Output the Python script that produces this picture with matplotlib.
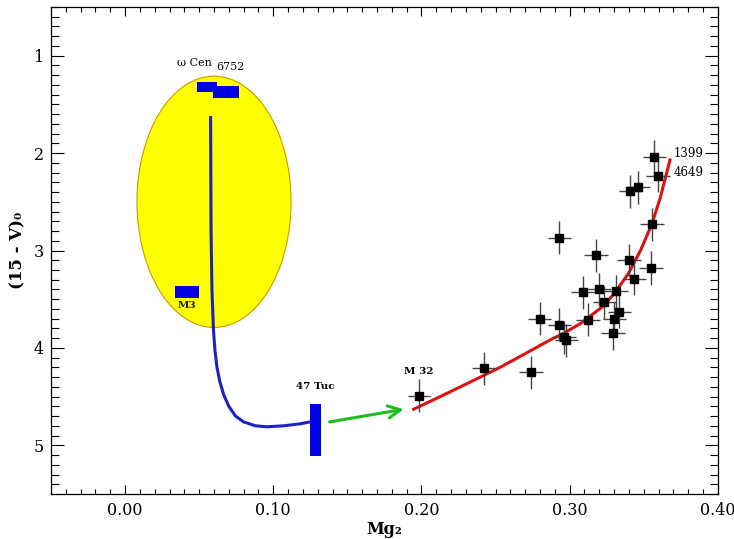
#!/usr/bin/env python3
"""Mg2 vs (15 - V)0 diagram: globular clusters and galaxies"""
import matplotlib
matplotlib.use('Agg')
import matplotlib.pyplot as plt
from matplotlib.patches import Ellipse, Rectangle
from matplotlib.ticker import MultipleLocator, FormatStrFormatter

# Galaxies (black squares with error bars)
gal_mg2 = [0.1981, 0.2421, 0.2741, 0.2797, 0.2931, 0.2960, 0.2978, 0.2931,
           0.3089, 0.3122, 0.3178, 0.3201, 0.3235, 0.3314, 0.3336, 0.3302,
           0.3291, 0.3399, 0.3437, 0.3550, 0.3557, 0.3410, 0.3459, 0.3572,
           0.3595]
gal_col = [4.49, 4.21, 4.25, 3.70, 3.76, 3.89, 3.92, 2.87,
           3.43, 3.71, 3.05, 3.40, 3.53, 3.42, 3.63, 3.70,
           3.85, 3.10, 3.29, 3.18, 2.73, 2.39, 2.35, 2.04,
           2.23]
gal_mg2_err = [0.0075, 0.008, 0.008, 0.008, 0.008, 0.008, 0.008, 0.008,
               0.008, 0.008, 0.008, 0.008, 0.008, 0.008, 0.008, 0.008,
               0.008, 0.008, 0.008, 0.008, 0.008, 0.008, 0.008, 0.008,
               0.008]
gal_col_err = [0.17, 0.17, 0.17, 0.17, 0.17, 0.17, 0.17, 0.17,
               0.17, 0.17, 0.17, 0.17, 0.17, 0.17, 0.17, 0.17,
               0.17, 0.17, 0.17, 0.17, 0.17, 0.17, 0.17, 0.17,
               0.17]

# Globular cluster boxes (Mg2 range, colour range)
gc_names = ['omega Cen', '6752', 'M3', '47 Tuc']
gc_mg2_lo = [0.0486, 0.0595, 0.0340, 0.1248]
gc_mg2_hi = [0.0618, 0.0770, 0.0500, 0.1322]
gc_col_lo = [1.27, 1.31, 3.36, 4.58]
gc_col_hi = [1.37, 1.43, 3.49, 5.11]

# Blue track
track_mg2 = [0.0577, 0.0580, 0.0586, 0.0596, 0.0606, 0.0620, 0.0640, 0.0665,
             0.0700, 0.0745, 0.0800, 0.0880, 0.0955, 0.1068, 0.1180, 0.1248]
track_col = [1.62, 2.80, 3.40, 3.81, 4.02, 4.20, 4.35, 4.48,
             4.60, 4.70, 4.76, 4.80, 4.81, 4.80, 4.78, 4.76]

# Red fit through galaxies
fit_mg2 = [0.1947, 0.2140, 0.2330, 0.2530, 0.2735, 0.2872, 0.2960, 0.3073,
           0.3219, 0.3297, 0.3395, 0.3478, 0.3557, 0.3613, 0.3677]
fit_col = [4.63, 4.49, 4.35, 4.20, 4.03, 3.915, 3.85, 3.75,
           3.58, 3.45, 3.24, 3.00, 2.72, 2.45, 2.07]

# Yellow region: centre, width, height
region_centre = (0.060, 2.50)
region_size = (0.104, 2.58)

plt.rcParams['font.family'] = ['DejaVu Serif']

fig = plt.figure(figsize=(7.34, 5.39), dpi=100)
ax = fig.add_axes([0.0695, 0.0835, 0.9085, 0.9035])

ax.add_patch(Ellipse(region_centre, region_size[0], region_size[1],
                     facecolor='#ffff00', edgecolor='#c89a00', lw=0.8, zorder=1))

for lo, hi, clo, chi in zip(gc_mg2_lo, gc_mg2_hi, gc_col_lo, gc_col_hi):
    ax.add_patch(Rectangle((lo, clo), hi - lo, chi - clo,
                           facecolor='#0000e6', edgecolor='none', zorder=3))

ax.plot(track_mg2, track_col, color='#1f1fc4', lw=2.2, zorder=2,
        solid_capstyle='butt')
ax.plot(fit_mg2, fit_col, color='#dd1111', lw=2.2, zorder=4)

ax.errorbar(gal_mg2, gal_col, xerr=gal_mg2_err, yerr=gal_col_err, fmt='s',
            color='black', ms=6, ecolor='#444444', elinewidth=1, capsize=0,
            zorder=5)

ax.annotate('', xy=(0.188, 4.63), xytext=(0.138, 4.76),
            arrowprops=dict(arrowstyle='->', color='#22bb22', lw=2.2,
                            mutation_scale=22, shrinkA=0, shrinkB=0))

ax.text(0.047, 1.08, '\u03c9 Cen', fontsize=8, ha='center', va='center')
ax.text(0.0714, 1.12, '6752', fontsize=8, ha='center', va='center')
ax.text(0.042, 3.56, 'M3', fontsize=7.5, ha='center', va='center',
        fontweight='bold', color='#202040')
ax.text(0.128, 4.40, '47 Tuc', fontsize=7.5, ha='center', va='center',
        fontweight='bold')
ax.text(0.1981, 4.24, 'M 32', fontsize=7.5, ha='center', va='center',
        fontweight='bold')
ax.text(0.370, 2.00, '1399', fontsize=8.5, ha='left', va='center')
ax.text(0.370, 2.20, '4649', fontsize=8.5, ha='left', va='center')

ax.set_xlim(-0.05, 0.40)
ax.set_ylim(5.5, 0.5)
ax.xaxis.set_major_locator(MultipleLocator(0.1))
ax.xaxis.set_minor_locator(MultipleLocator(0.01))
ax.xaxis.set_major_formatter(FormatStrFormatter('%.2f'))
ax.yaxis.set_major_locator(MultipleLocator(1))
ax.yaxis.set_minor_locator(MultipleLocator(0.1))

ax.tick_params(which='both', direction='in', top=True, right=True,
               width=0.8, labelsize=11.5)
ax.tick_params(axis='x', which='major', length=6.5, pad=6)
ax.tick_params(axis='x', which='minor', length=3.5)
ax.tick_params(axis='y', which='major', length=9.5, pad=5)
ax.tick_params(axis='y', which='minor', length=5.5)
for s in ax.spines.values():
    s.set_linewidth(0.9)

ax.set_xlabel('Mg\u2082', fontsize=11.5, fontweight='bold')
ax.xaxis.set_label_coords(0.5, -0.056)
ax.set_ylabel('(15 - V)\u2080', fontsize=12, fontweight='bold', labelpad=5)

fig.savefig('out.png', dpi=100)
